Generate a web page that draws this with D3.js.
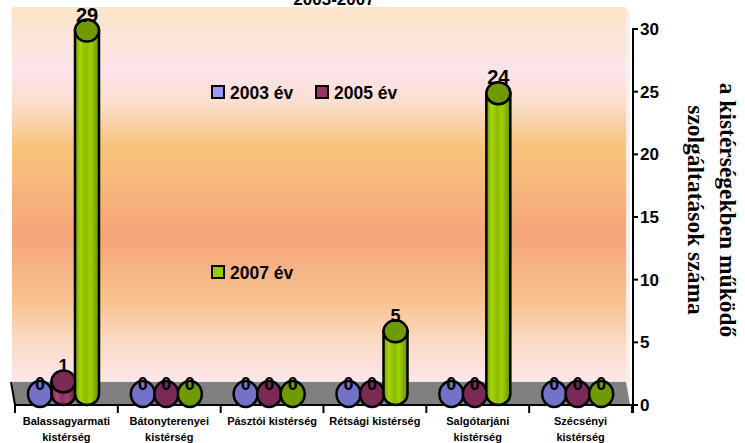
<!DOCTYPE html>
<html>
<head>
<meta charset="UTF-8">
<script src="https://cdnjs.cloudflare.com/ajax/libs/d3/7.8.5/d3.min.js"></script>
<style>
html, body { margin: 0; padding: 0; background: #fff; }
svg { display: block; font-family: Arial, "Liberation Sans", sans-serif; }
</style>
</head>
<body>
<script>
// adatok
var categories = [
  ["Balassagyarmati", "kistérség"],
  ["Bátonyterenyei", "kistérség"],
  ["Pásztói kistérség"],
  ["Rétsági kistérség"],
  ["Salgótarjáni", "kistérség"],
  ["Szécsényi", "kistérség"]
];
var seriesNames = ["2003 év", "2005 év", "2007 év"];
var v2003 = [0, 0, 0, 0, 0, 0];
var v2005 = [1, 0, 0, 0, 0, 0];
var v2007 = [29, 0, 0, 5, 24, 0];
var yTicks = [0, 5, 10, 15, 20, 25, 30];
var title = "2003-2007";
var axisTitle = ["a kistérségekben működő", "szolgáltatások száma"];

var width = 745, height = 443;
var series = [v2003, v2005, v2007];

var svg = d3.select("body").append("svg")
    .attr("width", width)
    .attr("height", height);

var defs = svg.append("defs");

// fal szinatmenet
var wall = defs.append("linearGradient").attr("id", "wall")
    .attr("x1", 0).attr("y1", 0).attr("x2", 0).attr("y2", 1);
[[0, "#fae5c8"], [0.17, "#fde3ec"], [0.25, "#fbdfd2"], [0.37, "#f7c47c"],
 [0.47, "#f7b87a"], [0.61, "#f5a47a"], [0.79, "#f8c490"], [0.9, "#fbdcc8"], [1, "#fde6ea"]]
  .forEach(function (s) { wall.append("stop").attr("offset", s[0]).attr("stop-color", s[1]); });

var bodyCols = [
  ["#5c5cb0", "#8a8ae0", "#7272c8", "#8080d4", "#5858a8"],
  ["#6a1f48", "#b04a7e", "#8a3060", "#a0406e", "#5e1a40"],
  ["#6f9a00", "#a8d60a", "#8cbb00", "#a2d000", "#6a9000"]
];
var topCols = ["#7272c8", "#7a2a55", "#6f9a00"];
bodyCols.forEach(function (c, i) {
  var g = defs.append("linearGradient").attr("id", "cyl" + i)
      .attr("x1", 0).attr("y1", 0).attr("x2", 1).attr("y2", 0);
  [0, 0.22, 0.45, 0.65, 1].forEach(function (o, k) {
    g.append("stop").attr("offset", o).attr("stop-color", c[k]);
  });
});

var x = d3.scaleBand().domain(d3.range(categories.length)).range([15, 632]);
var xs = d3.scalePoint().domain(d3.range(seriesNames.length)).range([25, 72]);
var y = d3.scaleLinear().domain([0, 30]).range([405, 29]);

var depth = 11, rx = 12, ry = 11;
var wallTop = 7, floorTop = 382;

// hatter fal
svg.append("rect")
    .attr("x", 12).attr("y", wallTop)
    .attr("width", 614).attr("height", floorTop - wallTop)
    .attr("fill", "url(#wall)");
svg.append("polygon")
    .attr("points", [[626, wallTop], [630, wallTop + 6], [630, y(0)], [626, floorTop]].join(" "))
    .attr("fill", "#fbeee8");
svg.append("line")
    .attr("x1", 12).attr("x2", 626).attr("y1", floorTop - 0.5).attr("y2", floorTop - 0.5)
    .attr("stroke", "#e6e6e6").attr("stroke-width", 1.5);

// padlo
svg.append("polygon")
    .attr("points", [[12, floorTop], [626, floorTop], [630, y(0)], [15, y(0)]].join(" "))
    .attr("fill", "#808080");
svg.append("line")
    .attr("x1", 11).attr("y1", floorTop).attr("x2", 15).attr("y2", y(0))
    .attr("stroke", "#000").attr("stroke-width", 2);
svg.append("line")
    .attr("x1", 14).attr("x2", 634).attr("y1", y(0)).attr("y2", y(0))
    .attr("stroke", "#000").attr("stroke-width", 2);

// kategoria tengely osztasok
svg.append("g").selectAll("line")
    .data(d3.range(categories.length + 1))
    .enter().append("line")
    .attr("x1", function (d) { return d < categories.length ? x(d) : x.range()[1]; })
    .attr("x2", function (d) { return d < categories.length ? x(d) : x.range()[1]; })
    .attr("y1", y(0)).attr("y2", y(0) + 8)
    .attr("stroke", "#000").attr("stroke-width", 2);

// kategoria feliratok
var catLab = svg.append("g").selectAll("text")
    .data(categories)
    .enter().append("text")
    .attr("text-anchor", "middle")
    .attr("font-size", 11).attr("font-weight", "bold")
    .attr("fill", "#000");
catLab.selectAll("tspan")
    .data(function (d, i) { return d.map(function (t) { return { t: t, i: i }; }); })
    .enter().append("tspan")
    .attr("x", function (d) { return x(d.i) + x.bandwidth() / 2; })
    .attr("y", function (d, k) { return 425 + k * 16; })
    .text(function (d) { return d.t; });

// hengerek
var bars = [];
categories.forEach(function (c, i) {
  series.forEach(function (s, j) {
    bars.push({ i: i, j: j, v: s[i] });
  });
});
var bar = svg.append("g").selectAll("g")
    .data(bars)
    .enter().append("g");
bar.each(function (d) {
  var g = d3.select(this);
  var cx = x(d.i) + xs(d.j);
  var yb = y(0) - depth, yt = y(d.v) - depth;
  if (d.v > 0) {
    g.append("path")
        .attr("d", "M" + (cx - rx) + "," + yt + " L" + (cx - rx) + "," + yb +
              " A" + rx + "," + ry + " 0 0 0 " + (cx + rx) + "," + yb +
              " L" + (cx + rx) + "," + yt + " Z")
        .attr("fill", "url(#cyl" + d.j + ")")
        .attr("stroke", "#000").attr("stroke-width", 2.5);
  }
  g.append("ellipse")
      .attr("cx", cx).attr("cy", yt)
      .attr("rx", rx).attr("ry", d.v > 0 ? ry : ry + 2)
      .attr("fill", topCols[d.j])
      .attr("stroke", "#000").attr("stroke-width", 2.5);
});

// ertekcimkek
svg.append("g").selectAll("text")
    .data(bars)
    .enter().append("text")
    .attr("x", function (d) { return x(d.i) + xs(d.j); })
    .attr("y", function (d) { return y(d.v) - depth - (d.v > 0 ? 9 : 4); })
    .attr("text-anchor", "middle")
    .attr("font-size", function (d) { return d.v >= 10 ? 20 : 18; })
    .attr("font-weight", "bold")
    .attr("fill", "#000")
    .text(function (d) { return d.v; });

// y tengely
var yAxis = svg.append("g");
yAxis.append("line")
    .attr("x1", 633).attr("x2", 633).attr("y1", y(30) - 1).attr("y2", y(0) + 8)
    .attr("stroke", "#000").attr("stroke-width", 2);
var tk = yAxis.selectAll("g.tick")
    .data(yTicks)
    .enter().append("g").attr("class", "tick")
    .attr("transform", function (d) { return "translate(633," + y(d) + ")"; });
tk.append("line").attr("x1", 0).attr("x2", 5).attr("stroke", "#000").attr("stroke-width", 2);
tk.append("text")
    .attr("x", 7).attr("dy", "0.36em")
    .attr("font-size", 17).attr("font-weight", "bold")
    .attr("fill", "#000")
    .text(function (d) { return d; });

// tengelycim
var at = svg.append("text")
    .attr("transform", "translate(706,210) rotate(90)")
    .attr("text-anchor", "middle")
    .attr("font-family", "'Liberation Serif', 'Times New Roman', serif")
    .attr("font-size", 23.5).attr("font-weight", "bold")
    .attr("fill", "#000");
at.selectAll("tspan")
    .data(axisTitle)
    .enter().append("tspan")
    .attr("x", 0)
    .attr("y", function (d, i) { return i === 0 ? -14 : 18; })
    .text(function (d) { return d; });

// cim
svg.append("text")
    .attr("x", 334).attr("y", 5)
    .attr("text-anchor", "middle")
    .attr("font-size", 17).attr("font-weight", "bold")
    .text(title);

// jelmagyarazat
var legendPos = [[212, 86], [316, 86], [212, 266]];
var legCols = ["#9999ff", "#993366", "#99cc00"];
var leg = svg.append("g").selectAll("g")
    .data(seriesNames)
    .enter().append("g")
    .attr("transform", function (d, i) { return "translate(" + legendPos[i][0] + "," + legendPos[i][1] + ")"; });
leg.append("rect")
    .attr("width", 12).attr("height", 12)
    .attr("fill", function (d, i) { return legCols[i]; })
    .attr("stroke", "#000").attr("stroke-width", 2);
leg.append("text")
    .attr("x", 18).attr("y", 13)
    .attr("font-size", 17.5).attr("font-weight", "bold")
    .text(function (d) { return d; });
</script>
</body>
</html>
